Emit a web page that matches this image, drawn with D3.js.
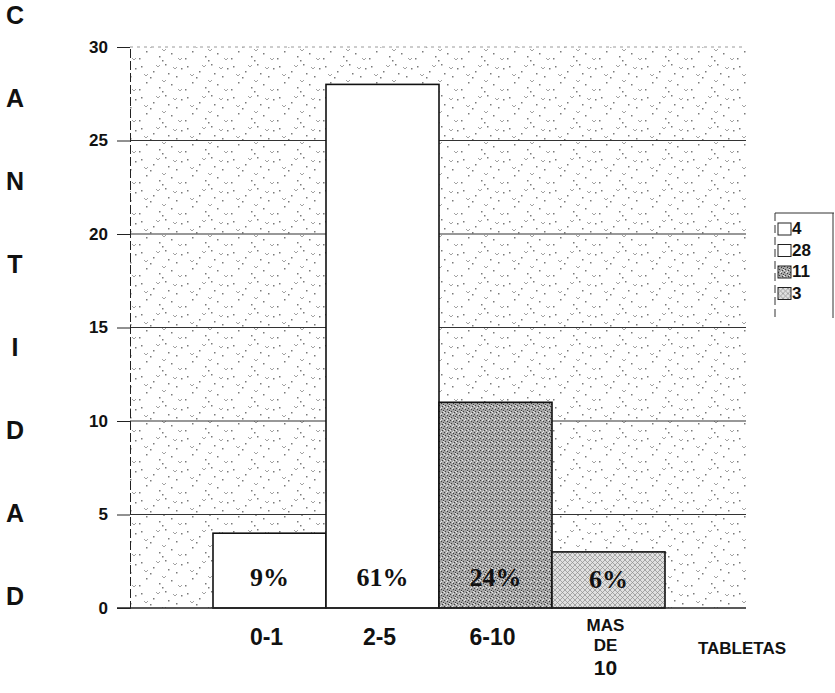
<!DOCTYPE html>
<html>
<head>
<meta charset="utf-8">
<script src="https://cdn.jsdelivr.net/npm/d3@7"></script>
<style>
  html, body { margin: 0; padding: 0; background: #fff; }
  svg { display: block; }
</style>
</head>
<body>
<svg id="chart" width="835" height="693"></svg>
<script>
// Number of tablets per group
const categories = ["0-1", "2-5", "6-10", "MAS DE 10"];
const counts = [4, 28, 11, 3];
const percentLabels = ["9%", "61%", "24%", "6%"];
const yTicks = [0, 5, 10, 15, 20, 25, 30];
const legendLabels = ["4", "28", "11", "3"];
const axisTitleLetters = ["C", "A", "N", "T", "I", "D", "A", "D"];

const svg = d3.select("#chart");
const defs = svg.append("defs");
const sans = "Liberation Sans, Arial, sans-serif";

// Speckled background of the plot area
const bg = defs.append("pattern").attr("id", "speckle")
  .attr("patternUnits", "userSpaceOnUse").attr("width", 46).attr("height", 31);
[[3,4],[15,9],[27,2],[38,14],[8,20],[21,25],[33,22],[43,6],[12,15],[30,11],[24,29],[1,27]].forEach(([x, y]) => {
  bg.append("rect").attr("x", x).attr("y", y).attr("width", 1.5).attr("height", 1.5).attr("fill", "#7a7a7a");
});
[[6,12],[24,18],[40,27],[18,3],[35,5]].forEach(([x, y]) => {
  bg.append("path").attr("d", `M${x},${y} l2,2 l2,-2`).attr("fill", "none").attr("stroke", "#999").attr("stroke-width", 0.9);
});

// Dark stippled fill
const dark = defs.append("pattern").attr("id", "darkStipple")
  .attr("patternUnits", "userSpaceOnUse").attr("width", 6).attr("height", 6);
dark.append("rect").attr("width", 6).attr("height", 6).attr("fill", "#a6a6a6");
[[0,0],[3,1],[1,3],[4,4],[5,2]].forEach(([x, y]) => {
  dark.append("rect").attr("x", x).attr("y", y).attr("width", 1).attr("height", 1).attr("fill", "#3c3c3c");
});
[[2,0],[5,3],[0,4],[3,5]].forEach(([x, y]) => {
  dark.append("rect").attr("x", x).attr("y", y).attr("width", 1).attr("height", 1).attr("fill", "#e8e8e8");
});

// Light cross-hatched fill
const light = defs.append("pattern").attr("id", "lightHatch")
  .attr("patternUnits", "userSpaceOnUse").attr("width", 5).attr("height", 5);
light.append("rect").attr("width", 5).attr("height", 5).attr("fill", "#e0e0e0");
light.append("path").attr("d", "M0,5 L5,0 M0,0 L5,5").attr("stroke", "#8d8d8d").attr("stroke-width", 0.7);

const fills = ["#ffffff", "#ffffff", "url(#darkStipple)", "url(#lightHatch)"];

const plot = { left: 130, right: 746, top: 47, bottom: 608 };

const y = d3.scaleLinear().domain([0, 30]).range([plot.bottom, plot.top]);
const x = d3.scaleBand().domain(categories).range([213, 665]).padding(0);

// Plot background
svg.append("rect")
  .attr("x", plot.left).attr("y", plot.top)
  .attr("width", plot.right - plot.left).attr("height", plot.bottom - plot.top)
  .attr("fill", "url(#speckle)");

// Horizontal grid lines
svg.append("g").selectAll("line").data(yTicks.filter(t => t > 0)).join("line")
  .attr("x1", plot.left).attr("x2", plot.right)
  .attr("y1", d => y(d)).attr("y2", d => y(d))
  .attr("stroke", d => d === 30 ? "#9a9a9a" : "#333")
  .attr("stroke-width", d => d === 30 ? 1 : 1.2)
  .attr("stroke-dasharray", d => d === 30 ? "3,4" : null);

// Bars
svg.append("g").selectAll("rect").data(counts).join("rect")
  .attr("x", (d, i) => x(categories[i]))
  .attr("y", d => y(d))
  .attr("width", x.bandwidth())
  .attr("height", d => y(0) - y(d))
  .attr("fill", (d, i) => fills[i])
  .attr("stroke", "#111")
  .attr("stroke-width", 1.6);

// Percentage labels
svg.append("g").selectAll("text").data(counts).join("text")
  .attr("x", (d, i) => x(categories[i]) + x.bandwidth() / 2)
  .attr("y", d => Math.max(y(d) + 30, y(1.5)))
  .attr("text-anchor", "middle")
  .attr("dominant-baseline", "middle")
  .attr("font-family", "Liberation Serif, Times New Roman, serif")
  .attr("font-weight", "bold")
  .attr("font-size", 26)
  .attr("fill", "#111")
  .text((d, i) => percentLabels[i]);

// Y axis
const yAxis = d3.axisLeft(y).tickValues(yTicks).tickSize(13).tickPadding(9);
const gy = svg.append("g").attr("transform", `translate(${plot.left},0)`).call(yAxis);
gy.select(".domain").attr("stroke", "#222").attr("stroke-dasharray", "9,3");
gy.selectAll(".tick line").attr("stroke", "#222");
gy.selectAll(".tick text")
  .attr("font-family", sans)
  .attr("font-weight", "bold").attr("font-size", 17).attr("fill", "#111");

// Baseline
svg.append("line")
  .attr("x1", plot.left - 13).attr("x2", plot.right)
  .attr("y1", y(0)).attr("y2", y(0))
  .attr("stroke", "#222").attr("stroke-width", 1.5);

// X category labels
const xl = svg.append("g")
  .attr("font-family", sans)
  .attr("font-weight", "bold").attr("fill", "#111")
  .attr("text-anchor", "middle");
categories.forEach(c => {
  const cx = x(c) + x.bandwidth() / 2 - 3;
  if (c === "MAS DE 10") {
    const parts = ["MAS", "DE", "10"];
    const sizes = [17, 17, 21];
    const ys = [631, 651, 675];
    parts.forEach((p, i) => xl.append("text").attr("x", cx).attr("y", ys[i]).attr("font-size", sizes[i]).text(p));
  } else {
    xl.append("text").attr("x", cx).attr("y", 645).attr("font-size", 23).text(c);
  }
});

// X axis title
svg.append("text")
  .attr("x", 742).attr("y", 654)
  .attr("text-anchor", "middle")
  .attr("font-family", sans)
  .attr("font-weight", "bold").attr("font-size", 17).attr("fill", "#111")
  .text("TABLETAS");

// Y axis title, stacked letters
svg.append("g").selectAll("text").data(axisTitleLetters).join("text")
  .attr("x", 15)
  .attr("y", (d, i) => 24 + i * 83)
  .attr("text-anchor", "middle")
  .attr("font-family", sans)
  .attr("font-weight", "bold").attr("font-size", 25).attr("fill", "#111")
  .text(d => d);

// Legend
const lg = svg.append("g");
lg.append("line").attr("x1", 775).attr("x2", 834).attr("y1", 213).attr("y2", 213).attr("stroke", "#333");
lg.append("line").attr("x1", 775).attr("x2", 775).attr("y1", 213).attr("y2", 318)
  .attr("stroke", "#333").attr("stroke-dasharray", "8,4");
lg.append("line").attr("x1", 833).attr("x2", 833).attr("y1", 213).attr("y2", 318).attr("stroke", "#333");
const items = lg.selectAll("g.item").data(legendLabels).join("g")
  .attr("transform", (d, i) => `translate(778, ${229 + i * 21.5})`);
items.append("rect")
  .attr("x", 0).attr("y", -6).attr("width", 13).attr("height", 12)
  .attr("fill", (d, i) => fills[i]).attr("stroke", "#222").attr("stroke-width", 1);
items.append("text")
  .attr("x", 14).attr("y", 1).attr("dominant-baseline", "middle")
  .attr("font-family", sans)
  .attr("font-weight", "bold").attr("font-size", 17).attr("fill", "#111")
  .text(d => d);
</script>
</body>
</html>
